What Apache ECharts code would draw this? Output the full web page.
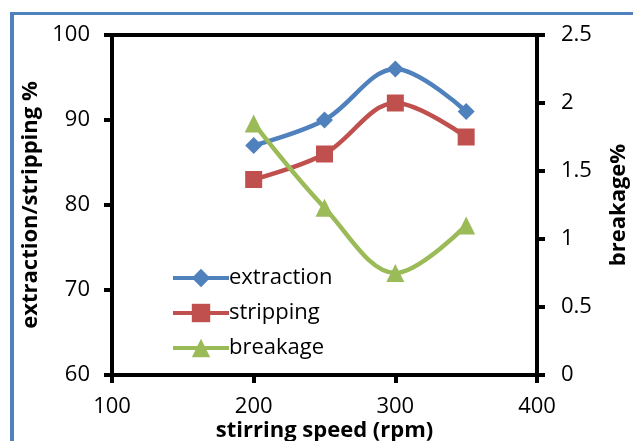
<!DOCTYPE html>
<html>
<head>
<meta charset="utf-8">
<script src="https://cdn.jsdelivr.net/npm/echarts@6/dist/echarts.min.js"></script>
<style>
  html, body { margin: 0; padding: 0; background: #fff; }
  #frame { position: absolute; left: 10px; top: 12px; width: 640px; height: 460px;
           border-left: 4px solid #4F81BD; border-top: 3px solid #4F81BD; }
  #chart { position: absolute; left: 0; top: 0; width: 633px; height: 441px; }
</style>
</head>
<body>
<div id="frame"></div>
<div id="chart"></div>
<script>
// stirring speed (rpm)
const speeds = [200, 250, 300, 350];
// percentage series on the left axis
const extraction = [87, 90, 96, 91];
const stripping = [83, 86, 92, 88];
// breakage % on the right axis
const breakage = [1.85, 1.23, 0.75, 1.1];

const FONT = '"Open Sans", "Liberation Sans", sans-serif';

function pairs(xs, ys) { return xs.map((x, i) => [x, ys[i]]); }

const chart = echarts.init(document.getElementById('chart'), null, { renderer: 'canvas' });

const axisLine = { show: true, lineStyle: { color: '#000', width: 4 } };
const axisTick = { show: true, inside: false, length: 8, lineStyle: { color: '#000', width: 4 } };
const tickLabel = { color: '#000', fontSize: 22, fontFamily: FONT };
const nameStyle = { color: '#000', fontSize: 22, fontWeight: 'bold', fontFamily: FONT };

chart.setOption({
  animation: false,
  backgroundColor: 'transparent',
  grid: { left: 112, right: 96, top: 35, bottom: 66, show: true,
          outerBoundsMode: 'none', containLabel: false,
          borderColor: '#000', borderWidth: 4, backgroundColor: 'transparent' },
  legend: {
    left: 166, top: 262, orient: 'vertical', itemGap: 13,
    itemWidth: 56, itemHeight: 23,
    lineStyle: { width: 4 },
    textStyle: { color: '#000', fontSize: 22, fontFamily: FONT, padding: [0, 0, 0, -5] },
    data: ['extraction', 'stripping', 'breakage']
  },
  xAxis: {
    type: 'value', min: 100, max: 400, interval: 100,
    name: 'stirring speed (rpm)', nameLocation: 'middle', nameGap: 45,
    nameMoveOverlap: false,
    nameTextStyle: nameStyle,
    axisLine, axisTick, splitLine: { show: false },
    axisLabel: Object.assign({ margin: 21 }, tickLabel)
  },
  yAxis: [
    {
      type: 'value', min: 60, max: 100, interval: 10,
      name: 'extraction/stripping %', nameLocation: 'middle', nameGap: 68, nameRotate: 90,
      nameTextStyle: nameStyle,
      axisLine, axisTick, splitLine: { show: false },
      axisLabel: Object.assign({ margin: 22 }, tickLabel)
    },
    {
      type: 'value', min: 0, max: 2.5, interval: 0.5, position: 'right',
      name: 'breakage%', nameLocation: 'middle', nameGap: 71, nameRotate: 90,
      nameTextStyle: nameStyle,
      axisLine, axisTick, splitLine: { show: false },
      axisLabel: Object.assign({ margin: 24 }, tickLabel)
    }
  ],
  series: [
    {
      name: 'extraction', type: 'line', yAxisIndex: 0, smooth: 0.35,
      data: pairs(speeds, extraction),
      symbol: 'diamond', symbolSize: 17,
      lineStyle: { color: '#4F81BD', width: 4.5 },
      itemStyle: { color: '#4F81BD' }
    },
    {
      name: 'stripping', type: 'line', yAxisIndex: 0, smooth: 0.35,
      data: pairs(speeds, stripping),
      symbol: 'rect', symbolSize: 17,
      lineStyle: { color: '#C0504D', width: 4.5 },
      itemStyle: { color: '#C0504D' }
    },
    {
      name: 'breakage', type: 'line', yAxisIndex: 1, smooth: 0.35,
      data: pairs(speeds, breakage),
      symbol: 'triangle', symbolSize: 18,
      lineStyle: { color: '#9BBB59', width: 4.5 },
      itemStyle: { color: '#9BBB59' }
    }
  ]
});
</script>
</body>
</html>
